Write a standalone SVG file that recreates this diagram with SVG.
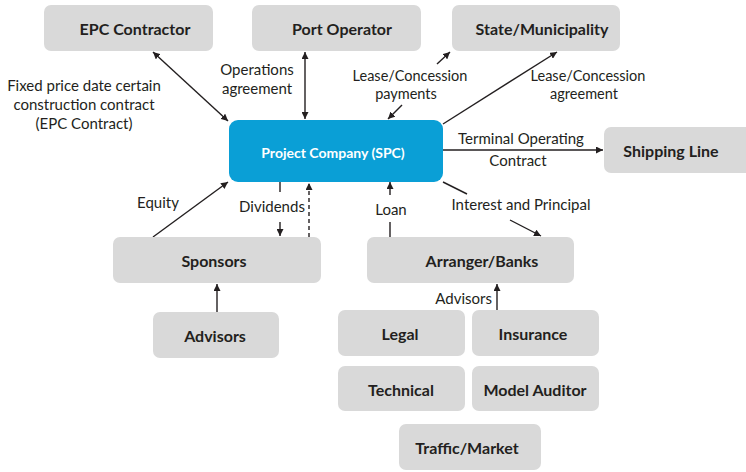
<svg xmlns="http://www.w3.org/2000/svg" width="746" height="472" viewBox="0 0 746 472">
  <style>
    .box { fill: #d9d9d9; }
    .spc { fill: #0a9fd6; }
    .nt { font-family: Lato, "Open Sans", sans-serif; font-weight: bold; font-size: 16px; fill: #231f20; text-anchor: middle; dominant-baseline: central; }
    .st { font-family: Lato, "Open Sans", sans-serif; font-weight: bold; font-size: 14px; fill: #ffffff; text-anchor: middle; dominant-baseline: central; }
    .lb { font-family: Lato, "Open Sans", sans-serif; font-size: 15px; fill: #231f20; text-anchor: middle; dominant-baseline: central; }
    .lease { font-size: 14.5px; }
    .ln { stroke: #231f20; stroke-width: 1.4; fill: none; }
    .ar { marker-end: url(#ah); }
    .ab { marker-start: url(#ahs); marker-end: url(#ah); }
    .dash { stroke-dasharray: 4 3; }
  </style>
  <defs>
    <marker id="ah" viewBox="0 0 10 10" refX="10" refY="5" markerWidth="7" markerHeight="7" markerUnits="userSpaceOnUse" orient="auto">
      <path d="M0,0 L10,5 L0,10 z" fill="#231f20"/>
    </marker>
    <marker id="ahs" viewBox="0 0 10 10" refX="0" refY="5" markerWidth="7" markerHeight="7" markerUnits="userSpaceOnUse" orient="auto">
      <path d="M10,0 L0,5 L10,10 z" fill="#231f20"/>
    </marker>
  </defs>

  <!-- connectors -->
  <g id="connectors">
    <line class="ln ab" x1="153" y1="52" x2="228" y2="121"/>
    <line class="ln ab" x1="305" y1="52" x2="305" y2="119"/>
    <line class="ln ar" x1="437" y1="64" x2="450" y2="52"/>
    <line class="ln ar" x1="402" y1="105" x2="388" y2="119"/>
    <line class="ln ar" x1="443" y1="124" x2="557" y2="52"/>
    <line class="ln ar" x1="443" y1="150" x2="603" y2="150"/>
    <line class="ln" x1="443" y1="182" x2="467" y2="194"/>
    <line class="ln ar" x1="510" y1="220" x2="541" y2="236"/>
    <line class="ln" x1="390" y1="237" x2="390" y2="222"/>
    <line class="ln ar" x1="390" y1="195" x2="390" y2="182"/>
    <line class="ln" x1="280" y1="182" x2="280" y2="192"/>
    <line class="ln ar" x1="280" y1="222" x2="280" y2="236"/>
    <line class="ln ar dash" x1="309" y1="237" x2="309" y2="183"/>
    <line class="ln ar" x1="153" y1="237" x2="228" y2="182"/>
    <line class="ln ar" x1="217" y1="312" x2="217" y2="284"/>
    <line class="ln ar" x1="497" y1="310" x2="497" y2="284"/>
  </g>

  <!-- connector labels -->
  <g id="labels">
    <text class="lb" x="84" y="85">Fixed price date certain</text>
    <text class="lb" x="84" y="104">construction contract</text>
    <text class="lb" x="84" y="123">(EPC Contract)</text>
    <text class="lb" x="257" y="69">Operations</text>
    <text class="lb" x="257" y="88">agreement</text>
    <text class="lb lease" x="410" y="75">Lease/Concession</text>
    <text class="lb lease" x="406" y="93">payments</text>
    <text class="lb lease" x="588" y="75">Lease/Concession</text>
    <text class="lb lease" x="584" y="93">agreement</text>
    <text class="lb" x="521" y="138">Terminal Operating</text>
    <text class="lb" x="518" y="160">Contract</text>
    <text class="lb" x="521" y="204">Interest and Principal</text>
    <text class="lb" x="391" y="209">Loan</text>
    <text class="lb" x="272" y="206">Dividends</text>
    <text class="lb" x="158" y="202">Equity</text>
    <text class="lb" x="492" y="298" style="text-anchor:end">Advisors</text>
  </g>

  <g id="epc"><rect class="box" x="44" y="5" width="169" height="46" rx="7"/><text class="nt" x="135" y="28">EPC Contractor</text></g>
  <g id="port"><rect class="box" x="252" y="5" width="169" height="46" rx="7"/><text class="nt" x="342" y="28">Port Operator</text></g>
  <g id="state"><rect class="box" x="452" y="5" width="168" height="46" rx="7"/><text class="nt" x="542" y="28">State/Municipality</text></g>
  <g id="shipping"><rect class="box" x="604" y="127" width="150" height="46" rx="7"/><text class="nt" x="671" y="150">Shipping Line</text></g>
  <g id="spc"><rect class="spc" x="229" y="120" width="214" height="62" rx="9"/><text class="st" x="333" y="152">Project Company (SPC)</text></g>
  <g id="sponsors"><rect class="box" x="113" y="237" width="208" height="46" rx="7"/><text class="nt" x="214" y="260">Sponsors</text></g>
  <g id="banks"><rect class="box" x="367" y="237" width="207" height="46" rx="7"/><text class="nt" x="482" y="260">Arranger/Banks</text></g>
  <g id="advisors"><rect class="box" x="153" y="312" width="126" height="46" rx="7"/><text class="nt" x="215" y="335">Advisors</text></g>
  <g id="legal"><rect class="box" x="338" y="310" width="127" height="46" rx="7"/><text class="nt" x="400" y="333">Legal</text></g>
  <g id="insurance"><rect class="box" x="472" y="310" width="127" height="46" rx="7"/><text class="nt" x="533" y="333">Insurance</text></g>
  <g id="technical"><rect class="box" x="338" y="366" width="127" height="45" rx="7"/><text class="nt" x="401" y="389">Technical</text></g>
  <g id="auditor"><rect class="box" x="472" y="366" width="127" height="45" rx="7"/><text class="nt" x="535" y="389">Model Auditor</text></g>
  <g id="traffic"><rect class="box" x="399" y="424" width="142" height="46" rx="7"/><text class="nt" x="467" y="447">Traffic/Market</text></g>
</svg>
